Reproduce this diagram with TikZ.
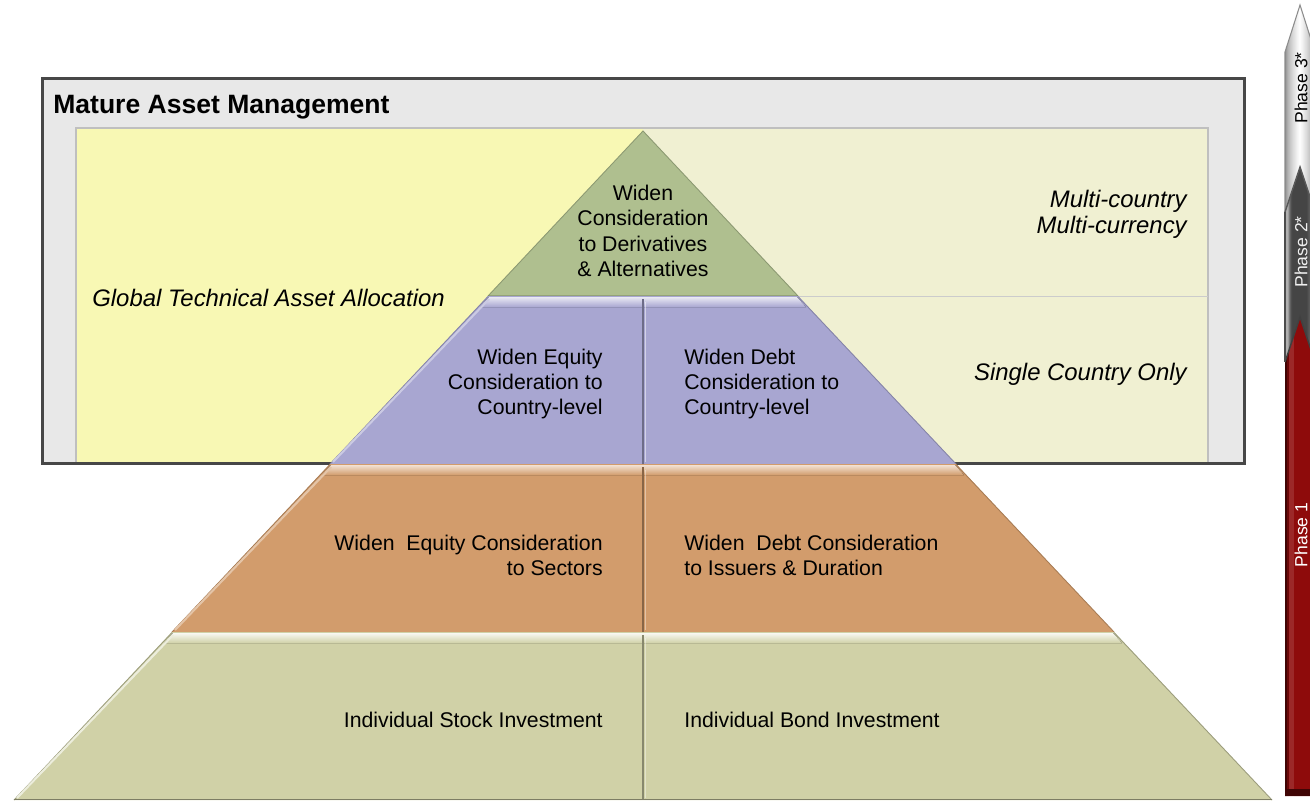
\documentclass[tikz,border=0pt]{standalone}
\usepackage{fontspec}
\setmainfont{Liberation Sans}
\definecolor{panelY}{HTML}{F8F8B4}
\definecolor{panelG}{HTML}{F0F0D2}
\definecolor{boxG}{HTML}{E8E8E8}
\definecolor{topG}{HTML}{AFBF8F}
\definecolor{purp}{HTML}{A8A6D1}
\definecolor{oran}{HTML}{D29C6C}
\definecolor{botG}{HTML}{D0D1A7}
\definecolor{redA}{HTML}{8E0B0B}
\tikzset{
  txt/.style={font=\fontsize{12.1pt}{14.35pt}\selectfont, inner sep=0pt, text=black},
  itxt/.style={font=\fontsize{13.6pt}{15pt}\selectfont\itshape, inner sep=0pt, text=black},
  ptxt/.style={font=\fontsize{10pt}{11pt}\selectfont, inner sep=0pt, rotate=90},
}
\begin{document}
\begin{tikzpicture}[x=0.02cm,y=-0.02cm]
\clip (0,0) rectangle (1310,801);
\fill[white] (0,0) rectangle (1310,801);
% outer box
\draw[line width=1.7pt, draw=black!72, fill=boxG] (42.5,78.5) rectangle (1244.5,463);
\node[font=\fontsize{15.1pt}{17pt}\selectfont\bfseries, inner sep=0pt, anchor=base west] (title) at (53,113) {Mature Asset Management};
% panels
\fill[panelY] (76,128) rectangle (643,462);
\fill[panelG] (643,128) rectangle (1208,462);
\draw[black!25, line width=0.8pt] (76,462) -- (76,128) -- (1208,128) -- (1208,462);
\draw[black!20, line width=0.6pt] (798,296.5) -- (1208,296.5);
% ---- pyramid ----
% top triangle
\fill[topG] (643,131) -- (798,296) -- (488,296) -- cycle;
\draw[topG!80!black, line width=0.5pt] (488,296) -- (643,131) -- (798,296);
\fill[topG!70!black, opacity=0.5] (488,294.5) rectangle (798,296.5);
% level 2 purple
\fill[purp] (488,296) -- (798,296) -- (956,464) -- (330,464) -- cycle;
\fill[top color=purp!25!white, bottom color=purp] (489,297) -- (797,297) -- (806,307) -- (480,307) -- cycle;
\draw[purp!80!black, line width=0.5pt] (330,464) -- (488,296.5) (798,296.5) -- (956,464);
\draw[purp!60!white, line width=1.2pt] (333,462) -- (489,299);
\draw[purp!65!black, line width=1.4pt] (643,299) -- (643,464);
\draw[white, opacity=0.5, line width=0.6pt] (645.5,302) -- (645.5,462);
% level 3 orange
\fill[oran] (330,464) -- (956,464) -- (1114,632) -- (172,632) -- cycle;
\fill[top color=oran!30!white, bottom color=oran] (331,465) -- (955,465) -- (964,475) -- (322,475) -- cycle;
\draw[oran!80!black, line width=0.5pt] (172,632) -- (330,464.5) (956,464.5) -- (1114,632);
\draw[oran!60!white, line width=1.2pt] (175,630) -- (331,467);
\draw[oran!65!black, line width=1.4pt] (643,467) -- (643,632);
\draw[white, opacity=0.4, line width=0.6pt] (645.5,470) -- (645.5,630);
% level 4 bottom
\fill[botG] (172,632) -- (1114,632) -- (1272,800) -- (14,800) -- cycle;
\fill[top color=botG!15!white, bottom color=botG] (173,633) -- (1113,633) -- (1122,643) -- (164,643) -- cycle;
\draw[botG!75!black, line width=0.5pt] (14,800) -- (172,632.5) (1114,632.5) -- (1272,800);
\draw[botG!40!white, line width=1.2pt] (17,798) -- (173,635);
\draw[botG!65!black, line width=1.4pt] (643,635) -- (643,800);
\draw[white, opacity=0.4, line width=0.6pt] (645.5,638) -- (645.5,798);
\draw[botG!60!black, line width=1pt] (14,799.5) -- (1272,799.5);
% ---- texts ----
\node[txt, align=center] (t1) at (643,231) {Widen\\Consideration\\to Derivatives\\\& Alternatives};
\node[txt, align=right, anchor=east] (t2l) at (603,384) {Widen Equity\\Consideration to\\Country-level};
\node[txt, align=left, anchor=west] (t2r) at (684,384) {Widen Debt\\Consideration to\\Country-level};
\node[txt, align=right, anchor=east] (t3l) at (603,555) {Widen~~Equity Consideration\\to Sectors};
\node[txt, align=left, anchor=west] (t3r) at (684,555) {Widen~~Debt Consideration\\to Issuers \& Duration};
\node[txt, anchor=east] (t4l) at (603,720) {Individual Stock Investment};
\node[txt, anchor=west] (t4r) at (684,720) {Individual Bond Investment};
\node[itxt, anchor=west] (gta) at (92,298) {Global Technical Asset Allocation};
\node[itxt, align=right, anchor=east] (mc) at (1187,214) {Multi-country\\Multi-currency};
\node[itxt, anchor=east] (sc) at (1187,374) {Single Country Only};
% ---- phase bar ----
% phase 1 (red)
\begin{scope}
  \clip (1285,362) -- (1300,317) -- (1315,362) -- (1315,796) -- (1285,796) -- cycle;
  \foreach \i in {0,...,29}{
    \pgfmathtruncatemacro{\q}{\i<2 ? 45 : (\i<4 ? 75 : (\i<9 ? 112 : (\i>26 ? 85 : 100)))}
    \ifnum\q>100
      \pgfmathtruncatemacro{\r}{100-(\q-100)}
      \fill[redA!\r!white] ({1285+\i},300) rectangle ({1286.3+\i},801);
    \else
      \fill[redA!\q!black] ({1285+\i},300) rectangle ({1286.3+\i},801);
    \fi
  }
  \fill[redA!45!black] (1285,789) rectangle (1315,796);
\end{scope}
% phase 2 (dark silver)
\begin{scope}
  \clip (1285,212) -- (1300,167) -- (1315,212) -- (1315,362) -- (1300,317) -- (1285,362) -- cycle;
  \foreach \i in {0,...,29}{
    \pgfmathtruncatemacro{\q}{74-44*exp(-((\i-1.5)/3)^2)-14*exp(-((\i-26)/3)^2)}
    \fill[black!\q] ({1285+\i},160) rectangle ({1286.3+\i},370);
  }
\end{scope}
% phase 3 (light silver)
\begin{scope}
  \clip (1285,52) -- (1300,5) -- (1315,52) -- (1315,212) -- (1300,167) -- (1285,212) -- cycle;
  \foreach \i in {0,...,29}{
    \pgfmathtruncatemacro{\p}{100*(1-abs((\i+0.5)/15-1))^0.5}
    \fill[white!\p!black!55] ({1285+\i},0) rectangle ({1286.3+\i},220);
  }
\end{scope}
\draw[black!45, line width=0.6pt] (1285,212) -- (1285,52) -- (1300,5) -- (1315,52);
\draw[black!65, line width=0.8pt] (1285,212) -- (1300,167) -- (1315,212);
\draw[black!75, line width=0.8pt] (1285,362) -- (1300,317) -- (1315,362);
\draw[black!70, line width=0.6pt] (1285,212) -- (1285,362);
\node[ptxt, text=black] (p3) at (1301,88) {Phase 3*};
\node[ptxt, text=black!6] (p2) at (1301,252) {Phase 2*};
\node[ptxt, text=white] (p1) at (1301,535) {Phase 1};
\end{tikzpicture}
\end{document}
